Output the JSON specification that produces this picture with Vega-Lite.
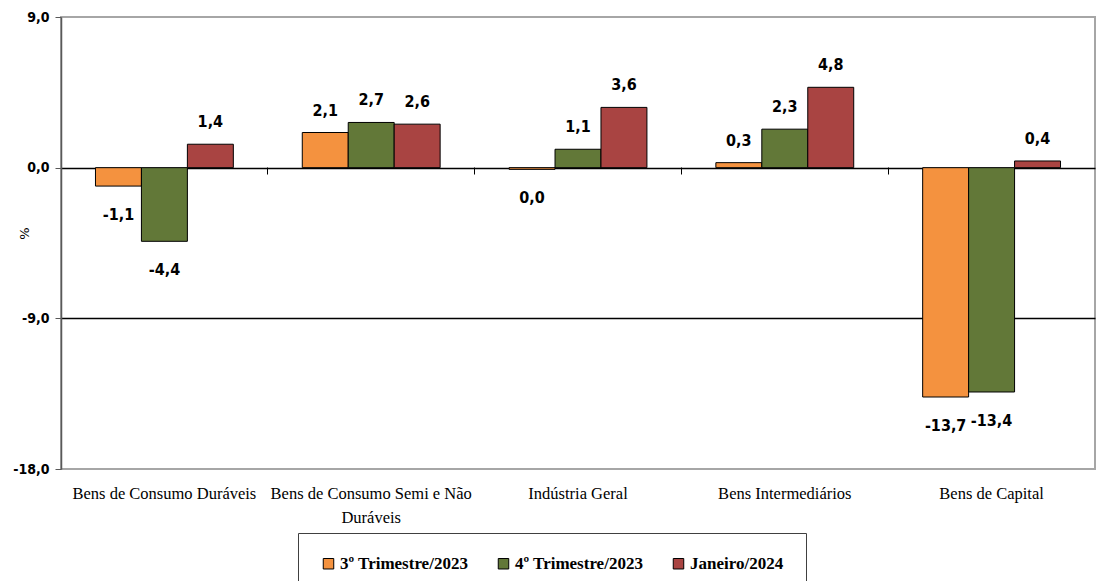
{
  "$schema": "https://vega.github.io/schema/vega-lite/v6.json",
  "width": 1034,
  "height": 452,
  "autosize": {"type": "none"},
  "padding": {"left": 61, "top": 17, "right": 1, "bottom": 112},
  "background": "white",
  "config": {
    "locale": {"number": {"decimal": ",", "thousands": ".", "grouping": [3], "currency": ["R$", ""], "minus": "-"}},
    "view": {"stroke": "#A6A6A6", "strokeWidth": 2}
  },
  "data": {
    "values": [
      {"categoria": "Bens de Consumo Duráveis", "serie": "3º Trimestre/2023", "valor": -1.1, "rotulo": "-1,1"},
      {"categoria": "Bens de Consumo Duráveis", "serie": "4º Trimestre/2023", "valor": -4.4, "rotulo": "-4,4"},
      {"categoria": "Bens de Consumo Duráveis", "serie": "Janeiro/2024", "valor": 1.4, "rotulo": "1,4"},
      {"categoria": "Bens de Consumo Semi e Não Duráveis", "serie": "3º Trimestre/2023", "valor": 2.1, "rotulo": "2,1"},
      {"categoria": "Bens de Consumo Semi e Não Duráveis", "serie": "4º Trimestre/2023", "valor": 2.7, "rotulo": "2,7"},
      {"categoria": "Bens de Consumo Semi e Não Duráveis", "serie": "Janeiro/2024", "valor": 2.6, "rotulo": "2,6"},
      {"categoria": "Indústria Geral", "serie": "3º Trimestre/2023", "valor": -0.1, "rotulo": "0,0"},
      {"categoria": "Indústria Geral", "serie": "4º Trimestre/2023", "valor": 1.1, "rotulo": "1,1"},
      {"categoria": "Indústria Geral", "serie": "Janeiro/2024", "valor": 3.6, "rotulo": "3,6"},
      {"categoria": "Bens Intermediários", "serie": "3º Trimestre/2023", "valor": 0.3, "rotulo": "0,3"},
      {"categoria": "Bens Intermediários", "serie": "4º Trimestre/2023", "valor": 2.3, "rotulo": "2,3"},
      {"categoria": "Bens Intermediários", "serie": "Janeiro/2024", "valor": 4.8, "rotulo": "4,8"},
      {"categoria": "Bens de Capital", "serie": "3º Trimestre/2023", "valor": -13.7, "rotulo": "-13,7"},
      {"categoria": "Bens de Capital", "serie": "4º Trimestre/2023", "valor": -13.4, "rotulo": "-13,4"},
      {"categoria": "Bens de Capital", "serie": "Janeiro/2024", "valor": 0.4, "rotulo": "0,4"}
    ]
  },
  "layer": [
    {
      "mark": {"type": "bar", "stroke": "black", "strokeWidth": 1},
      "encoding": {
        "x": {
          "field": "categoria", "type": "nominal", "sort": null,
          "scale": {"paddingInner": 0.3333, "paddingOuter": 0.1667},
          "axis": {
            "title": null, "domain": false, "ticks": false, "labelAngle": 0,
            "labelPadding": 16, "labelFont": "Liberation Serif", "labelFontSize": 16.5,
            "labelColor": "black", "labelLimit": 400, "labelLineHeight": 24,
            "labelExpr": "datum.label == 'Bens de Consumo Semi e Não Duráveis' ? ['Bens de Consumo Semi e Não', 'Duráveis'] : datum.label"
          }
        },
        "xOffset": {
          "field": "serie", "type": "nominal",
          "sort": ["3º Trimestre/2023", "4º Trimestre/2023", "Janeiro/2024"],
          "scale": {"paddingInner": 0, "paddingOuter": 0}
        },
        "y": {
          "field": "valor", "type": "quantitative",
          "scale": {"domain": [-18, 9], "nice": false},
          "axis": {
            "values": [9, 0, -9, -18], "format": ".1f",
            "labelExpr": "replace(datum.label, '\u2212', '-')",
            "title": "%", "titleX": -30, "titleY": 216, "titleFontSize": 13,
            "titleFont": "DejaVu Sans", "titleFontWeight": "normal", "titleColor": "black",
            "grid": true, "gridColor": "black", "gridWidth": 1.3,
            "gridOpacity": {"condition": {"test": "datum.value == 0 || datum.value == -9", "value": 1}, "value": 0},
            "domainColor": "#595959", "domainWidth": 1.5, "tickColor": "#595959", "tickSize": 6,
            "labelFont": "DejaVu Sans Condensed", "labelFontWeight": "bold", "labelFontSize": 14,
            "labelPadding": 6, "labelColor": "black"
          }
        },
        "color": {
          "field": "serie", "type": "nominal",
          "scale": {
            "domain": ["3º Trimestre/2023", "4º Trimestre/2023", "Janeiro/2024"],
            "range": ["#F4923F", "#627838", "#A94442"]
          },
          "legend": {
            "orient": "none", "legendX": 237, "legendY": 516, "direction": "horizontal",
            "title": null, "symbolType": "square", "symbolSize": 110,
            "symbolStrokeColor": "black", "symbolStrokeWidth": 1, "symbolOpacity": 1,
            "labelFont": "Liberation Serif", "labelFontWeight": "bold", "labelFontSize": 17,
            "labelColor": "black", "labelOffset": 3, "columnPadding": 26,
            "strokeColor": "#404040", "padding": 22, "fillColor": "white"
          }
        }
      }
    },
    {
      "transform": [{"filter": "datum.valor >= 0"}],
      "mark": {"type": "text", "baseline": "alphabetic", "dy": -17, "font": "DejaVu Sans Condensed", "fontWeight": "bold", "fontSize": 16, "color": "black"},
      "encoding": {
        "x": {
          "field": "categoria", "type": "nominal", "sort": null,
          "axis": {
            "orient": "bottom", "offset": -302, "labels": false, "domain": false, "title": null,
            "ticks": true, "bandPosition": -0.25, "tickSize": 7, "tickColor": "black", "tickWidth": 1
          }
        },
        "xOffset": {"field": "serie", "type": "nominal", "sort": ["3º Trimestre/2023", "4º Trimestre/2023", "Janeiro/2024"]},
        "y": {"field": "valor", "type": "quantitative"},
        "text": {"field": "rotulo"}
      }
    },
    {
      "transform": [{"filter": "datum.valor < 0"}],
      "mark": {"type": "text", "baseline": "alphabetic", "dy": 34, "font": "DejaVu Sans Condensed", "fontWeight": "bold", "fontSize": 16, "color": "black"},
      "encoding": {
        "x": {"field": "categoria", "type": "nominal", "sort": null, "axis": null},
        "xOffset": {"field": "serie", "type": "nominal", "sort": ["3º Trimestre/2023", "4º Trimestre/2023", "Janeiro/2024"]},
        "y": {"field": "valor", "type": "quantitative"},
        "text": {"field": "rotulo"}
      }
    }
  ],
  "resolve": {"axis": {"x": "independent"}}
}
